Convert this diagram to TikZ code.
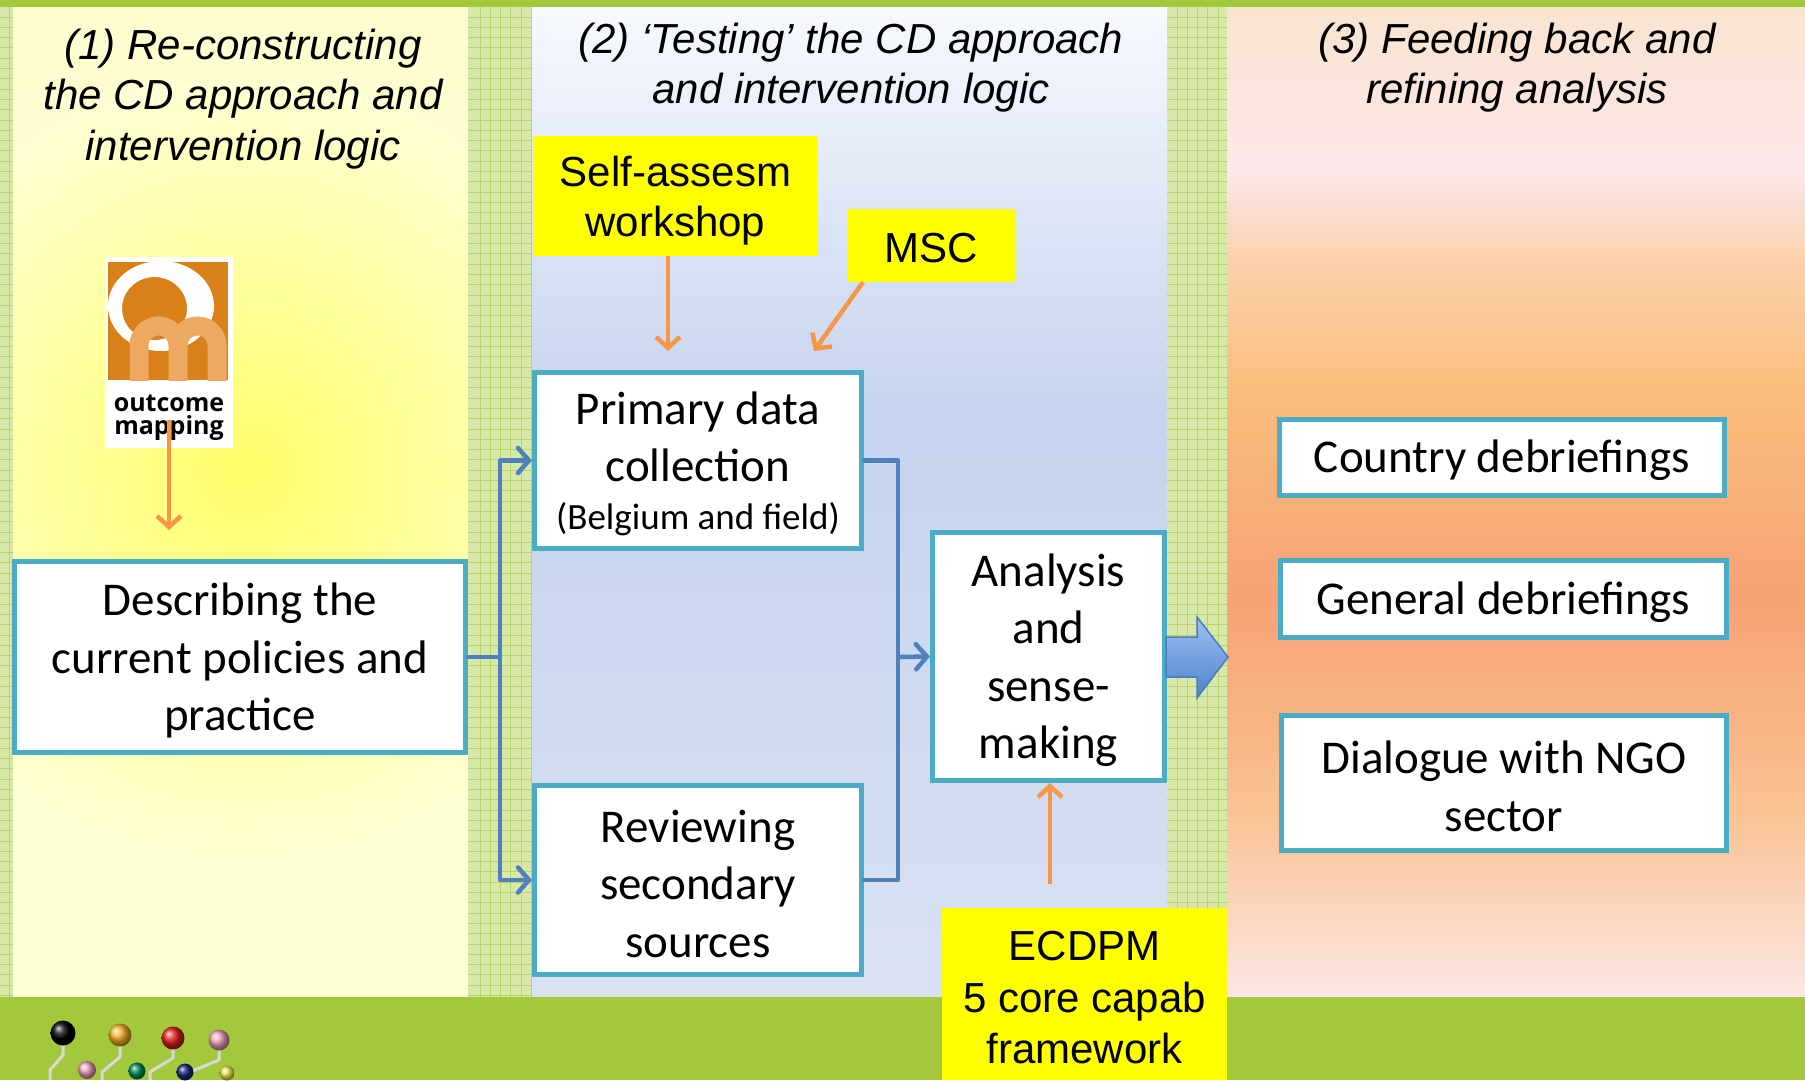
\documentclass[tikz,border=0pt]{standalone}
\usepackage{fontspec}
\setmainfont{Carlito}
\newfontfamily\helv{Liberation Sans}
\newfontfamily\logofont{Open Sans}
\usetikzlibrary{arrows.meta}

\definecolor{barGreen}{HTML}{A3C83C}
\definecolor{gridBase}{HTML}{D7E8A9}
\definecolor{gridLine}{HTML}{B5D46B}
\definecolor{frameBlue}{HTML}{4BACC6}
\definecolor{linkBlue}{HTML}{4F81BD}
\definecolor{feedOrange}{HTML}{F79646}
\definecolor{noteYellow}{HTML}{FFFF00}
\definecolor{omOrange}{HTML}{D98019}
\definecolor{omLight}{HTML}{EDA862}
\definecolor{wire}{HTML}{D8D8D8}

\begin{document}
\begin{tikzpicture}[x=1pt,y=-1pt,
  stagebox/.style={draw=frameBlue, line width=5pt, fill=white, inner sep=0pt},
  stagetext/.style={align=center, inner sep=0pt, font=\fontsize{47}{57.5}\selectfont},
  note/.style={fill=noteYellow, inner sep=0pt},
  notetext/.style={align=center, inner sep=0pt, font=\helv\fontsize{42}{50.5}\selectfont},
  heading/.style={align=center, inner sep=0pt,
    font=\helv\itshape\fontsize{42}{50.5}\selectfont},
  link/.style={draw=linkBlue, line width=4.5pt, line cap=round, line join=round},
  linkarrow/.style={link, -{Straight Barb[length=11pt,width=25pt,line cap=round]}},
  feed/.style={draw=feedOrange, line width=4.5pt,
    -{Straight Barb[length=11pt,width=24pt]}},
  gridrule/.style={draw=gridLine, line width=1pt},
]
\useasboundingbox (0,0) rectangle (1805,1080);

% ---------- column backgrounds ----------
% column 1: pale yellow with a warm glow
\shade[top color={rgb,255:red,253;green,253;blue,208}, bottom color={rgb,255:red,255;green,255;blue,214}]
  (13,7) rectangle (468,997);
\begin{scope}
  \clip (13,7) rectangle (468,997);
  \shade[inner color={rgb,255:red,255;green,255;blue,105}, outer color={rgb,255:red,255;green,255;blue,212}]
    (245,470) circle (390);
\end{scope}
% column 2: pale blue
\shade[top color={rgb,255:red,247;green,249;blue,254}, bottom color={rgb,255:red,196;green,211;blue,238}]
  (532,7) rectangle (1167,420);
\shade[top color={rgb,255:red,196;green,211;blue,238}, bottom color={rgb,255:red,218;green,226;blue,242}]
  (532,419.5) rectangle (1167,997);
% column 3: peach to salmon
\shade[top color={rgb,255:red,250;green,228;blue,208}, bottom color={rgb,255:red,252;green,231;blue,234}]
  (1227,7) rectangle (1805,170);
\shade[top color={rgb,255:red,252;green,231;blue,234}, bottom color={rgb,255:red,251;green,208;blue,170}]
  (1227,169.5) rectangle (1805,265);
\shade[top color={rgb,255:red,251;green,208;blue,170}, bottom color={rgb,255:red,249;green,190;blue,124}]
  (1227,264.5) rectangle (1805,390);
\shade[top color={rgb,255:red,249;green,190;blue,124}, bottom color={rgb,255:red,247;green,162;blue,116}]
  (1227,389.5) rectangle (1805,600);
\shade[top color={rgb,255:red,247;green,162;blue,116}, bottom color={rgb,255:red,249;green,194;blue,146}]
  (1227,599.5) rectangle (1805,810);
\shade[top color={rgb,255:red,249;green,194;blue,146}, bottom color={rgb,255:red,252;green,230;blue,228}]
  (1227,809.5) rectangle (1805,997);

% ---------- graph-paper strips ----------
\foreach \xa/\xb in {0/13, 468/532, 1167/1227} {
  \fill[gridBase] (\xa,7) rectangle (\xb,997);
  \foreach \k in {0,...,95} {
    \draw[gridrule] (\xa,{17+10.3*\k}) -- (\xb,{17+10.3*\k});
  }
}
\draw[gridrule] (9,7) -- (9,997);
\foreach \k in {0,...,5} {\draw[gridrule] ({480+10.3*\k},7) -- ({480+10.3*\k},997);}
\foreach \k in {0,...,4} {\draw[gridrule] ({1177+10.3*\k},7) -- ({1177+10.3*\k},997);}

% ---------- green bars ----------
\fill[barGreen] (0,0) rectangle (1805,7);
\fill[barGreen] (0,997) rectangle (1805,1080);

% ---------- headings ----------
\node[heading] (h1) at (243,99) {(1) Re-constructing\\the CD approach and\\intervention logic};
\node[heading] (h2) at (851,67.5) {(2) ‘Testing’ the CD approach\\and intervention logic};
\node[heading] (h3) at (1517,67.5) {(3) Feeding back and\\refining analysis};

% ---------- outcome mapping logo ----------
\node[fill=white, minimum width=128pt, minimum height=191pt, inner sep=0pt] (logo) at (169,352.5) {};
\begin{scope}
  \clip (108,262) rectangle (228,380);
  \fill[omOrange] (108,262) rectangle (228,380);
  \fill[white, even odd rule] (161,306) ellipse [x radius=53, y radius=45]
                              (154.5,308.5) ellipse [x radius=32.5, y radius=31.5];
  \draw[omLight, line width=19pt]
    (139,390) -- (139,345.5)
      .. controls (139,334.7) and (147.7,326) .. (158.5,326)
      .. controls (169.3,326) and (178,334.7) .. (178,345.5) -- (178,390)
    (178,345.5)
      .. controls (178,334.7) and (186.7,326) .. (197.5,326)
      .. controls (208.3,326) and (217,334.7) .. (217,345.5) -- (217,390);
\end{scope}
\node[font=\logofont\bfseries\fontsize{25}{25}\selectfont, inner sep=0pt] (omA) at (169,403) {outcome};
\node[font=\logofont\bfseries\fontsize{25}{25}\selectfont, inner sep=0pt] (omB) at (169,428) {mapping};

% ---------- stage boxes ----------
\node[stagebox, minimum width=451pt, minimum height=191pt] (desc) at (240,657) {};
\node[stagebox, minimum width=327pt, minimum height=176pt] (prim) at (698,460.5) {};
\node[stagebox, minimum width=327pt, minimum height=189pt] (rev) at (698,880) {};
\node[stagebox, minimum width=232pt, minimum height=248pt] (ana) at (1048.5,656.5) {};
\node[stagebox, minimum width=445pt, minimum height=76pt] (ctry) at (1502,457.5) {};
\node[stagebox, minimum width=446pt, minimum height=77pt] (gen) at (1503.5,599) {};
\node[stagebox, minimum width=445pt, minimum height=135pt] (ngo) at (1504,783) {};

\node[stagetext] (desc-t) at (240,660.5) {Describing the\\current policies and\\practice};
\node[stagetext] (prim-t) at (698,464)
  {Primary data\\collection\\[-9.5pt]{\fontsize{37}{44}\selectfont (Belgium and field)}};
\node[stagetext] (rev-t) at (698,883.5) {Reviewing\\secondary\\sources};
\node[stagetext] (ana-t) at (1048.5,660) {Analysis\\and\\sense-\\making};
\node[stagetext] (ctry-t) at (1502,460.5) {Country debriefings};
\node[stagetext] (gen-t) at (1503.5,602.5) {General debriefings};
\node[stagetext] (ngo-t) at (1504,786.5) {Dialogue with NGO\\sector};

% ---------- flow connectors ----------
\coordinate (split) at (500,657);
\coordinate (merge) at (898,657);
\draw[link] (desc.east) -- (split);
\draw[linkarrow] (split) |- (prim.west);
\draw[linkarrow] (split) |- (rev.west);
\draw[link] (prim.east) -| (merge);
\draw[link] (rev.east) -| (merge);
\draw[linkarrow] (merge) -- (ana.west);

% block arrow towards stage 3
\shade[top color={rgb,255:red,156;green,192;blue,244}, bottom color={rgb,255:red,78;green,130;blue,204},
       draw={rgb,255:red,74;green,124;blue,192}, line width=1.5pt, line join=miter]
  (1166,637) -- (1197,637) -- (1197,617) -- (1228,657) -- (1197,698) -- (1197,677) -- (1166,677) -- cycle;

% ---------- method notes ----------
\node[note, minimum width=285pt, minimum height=120pt] (self) at (675.5,196) {};
\node[note, minimum width=167pt, minimum height=73pt] (msc) at (931.5,245.5) {};
\node[note, minimum width=285pt, minimum height=172pt] (ecdpm) at (1084.5,994) {};
\node[notetext] (self-t) at (675.5,200.5) {Self-assesm\\workshop};
\node[notetext] (msc-t) at (931.5,248) {MSC};
\node[notetext, font=\helv\fontsize{42}{51.5}\selectfont] (ecdpm-t) at (1084.5,998)
  {ECDPM\\5 core capab\\framework};

% ---------- feeding arrows ----------
\coordinate (omTail) at (169,420);
\coordinate (omHead) at (169,530);
\coordinate (selfHead) at (668,351);
\coordinate (mscTail) at (863,282);
\coordinate (mscHead) at (814,351);
\coordinate (ecdpmTail) at (1050,884);
\draw[feed] (omTail) -- (omHead);
\draw[feed] (self.south -| selfHead) -- (selfHead);
\draw[feed] (mscTail) -- (mscHead);
\draw[feed] (ecdpmTail) -- (ana.south -| ecdpmTail);

% ---------- pin decoration ----------
\draw[wire, line width=3pt, line join=round]
  (63,1040) -- (63,1055) -- (50,1070) -- (50,1080)
  (120,1040) -- (120,1057) -- (102,1072) -- (102,1080)
  (173,1044) -- (173,1058) -- (150,1072) -- (150,1080)
  (219,1046) -- (219,1060) -- (190,1072);
\shade[ball color=black] (63,1033) circle (12.5);
\shade[ball color={rgb,255:red,250;green,180;blue,40}] (120,1035) circle (11.5);
\shade[ball color={rgb,255:red,225;green,30;blue,30}] (173,1038) circle (11.5);
\shade[ball color={rgb,255:red,240;green,160;blue,190}] (219,1040) circle (10.5);
\shade[ball color={rgb,255:red,240;green,160;blue,190}] (87,1070) circle (9);
\shade[ball color={rgb,255:red,0;green,140;blue,90}] (137,1071) circle (8.5);
\shade[ball color={rgb,255:red,20;green,40;blue,120}] (185,1072) circle (8.5);
\shade[ball color={rgb,255:red,240;green,230;blue,80}] (227,1073) circle (7.5);
\end{tikzpicture}
\end{document}
